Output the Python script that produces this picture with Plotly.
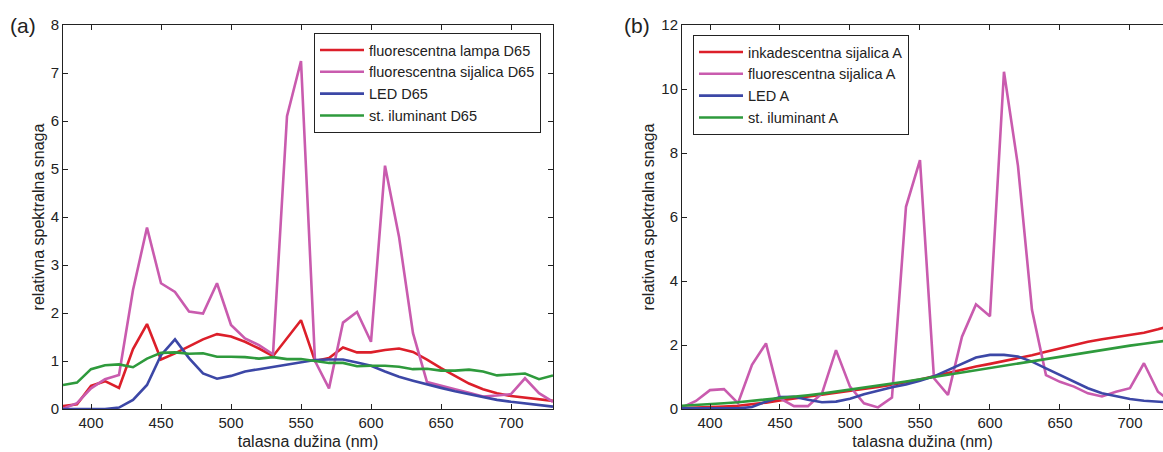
import plotly.graph_objects as go

# ---------------- data ----------------
wl = [380, 390, 400, 410, 420, 430, 440, 450, 460, 470, 480, 490, 500, 510, 520, 530, 540, 550,
      560, 570, 580, 590, 600, 610, 620, 630, 640, 650, 660, 670, 680, 690, 700, 710, 720, 730]

# panel (a) - D65
a_fl_lampa = [0.06, 0.10, 0.48, 0.58, 0.44, 1.25, 1.77, 1.03, 1.16, 1.30, 1.45, 1.56, 1.51, 1.40, 1.26, 1.10, 1.48, 1.85,
              1.00, 1.06, 1.28, 1.18, 1.18, 1.23, 1.26, 1.19, 1.03, 0.85, 0.69, 0.53, 0.41, 0.33, 0.27, 0.24, 0.20, 0.17]
a_fl_sijalica = [0.01, 0.12, 0.43, 0.62, 0.71, 2.48, 3.78, 2.62, 2.44, 2.03, 1.99, 2.62, 1.75, 1.47, 1.33, 1.14, 6.10, 7.25,
                 1.00, 0.43, 1.80, 2.02, 1.40, 5.07, 3.59, 1.58, 0.56, 0.48, 0.41, 0.34, 0.26, 0.28, 0.31, 0.64, 0.33, 0.15]
a_led = [0.0, 0.0, 0.0, 0.0, 0.03, 0.19, 0.50, 1.12, 1.45, 1.06, 0.74, 0.63, 0.69, 0.78, 0.83, 0.88, 0.93, 0.98,
         1.02, 1.03, 1.03, 0.97, 0.90, 0.78, 0.67, 0.59, 0.51, 0.44, 0.37, 0.31, 0.24, 0.19, 0.15, 0.12, 0.08, 0.05]
a_std = [0.50, 0.55, 0.83, 0.91, 0.93, 0.87, 1.05, 1.17, 1.18, 1.15, 1.16, 1.09, 1.09, 1.08, 1.05, 1.08, 1.04, 1.04,
         1.00, 0.96, 0.96, 0.89, 0.90, 0.90, 0.88, 0.83, 0.84, 0.80, 0.80, 0.82, 0.78, 0.70, 0.72, 0.74, 0.62, 0.70]

# panel (b) - A
b_inkand = [0.03, 0.04, 0.06, 0.08, 0.10, 0.14, 0.20, 0.27, 0.33, 0.38, 0.43, 0.49, 0.55, 0.62, 0.69, 0.76, 0.83, 0.92,
            1.02, 1.13, 1.24, 1.33, 1.41, 1.50, 1.58, 1.68, 1.79, 1.90, 2.00, 2.10, 2.18, 2.24, 2.30, 2.38, 2.49, 2.62]
b_fl_sijalica = [0.05, 0.25, 0.59, 0.62, 0.18, 1.38, 2.05, 0.33, 0.09, 0.09, 0.49, 1.84, 0.70, 0.18, 0.05, 0.36, 6.32, 7.78,
                 0.96, 0.44, 2.26, 3.27, 2.90, 10.54, 7.60, 3.10, 1.06, 0.85, 0.70, 0.49, 0.39, 0.54, 0.65, 1.43, 0.54, 0.20]
b_led = [0.02, 0.02, 0.02, 0.02, 0.02, 0.06, 0.23, 0.37, 0.38, 0.29, 0.21, 0.23, 0.32, 0.46, 0.58, 0.68, 0.77, 0.88,
         1.02, 1.22, 1.43, 1.61, 1.69, 1.69, 1.64, 1.48, 1.27, 1.06, 0.85, 0.65, 0.49, 0.39, 0.31, 0.26, 0.22, 0.20]
b_std = [0.10, 0.12, 0.15, 0.18, 0.21, 0.25, 0.29, 0.33, 0.38, 0.43, 0.48, 0.54, 0.60, 0.66, 0.73, 0.79, 0.86, 0.93,
         1.00, 1.07, 1.14, 1.22, 1.29, 1.36, 1.44, 1.51, 1.58, 1.65, 1.72, 1.79, 1.85, 1.92, 1.98, 2.04, 2.10, 2.16]

names_a = ["fluorescentna lampa D65", "fluorescentna sijalica D65", "LED D65", "st. iluminant D65"]
names_b = ["inkadescentna sijalica A", "fluorescentna sijalica A", "LED A", "st. iluminant A"]
x_ticks = [400, 450, 500, 550, 600, 650, 700]
ya_ticks = [0, 1, 2, 3, 4, 5, 6, 7, 8]
yb_ticks = [0, 2, 4, 6, 8, 10, 12]

colors = ["#DC1F2A", "#C95BAE", "#3C47A6", "#2E9A3C"]
FONT = "Liberation Sans, Arial, sans-serif"

fig = go.Figure()
for ys, nm, c in zip([a_fl_lampa, a_fl_sijalica, a_led, a_std], names_a, colors):
    fig.add_trace(go.Scatter(x=wl, y=ys, name=nm, mode="lines", line=dict(color=c, width=2.6),
                             xaxis="x", yaxis="y", legend="legend"))
for ys, nm, c in zip([b_inkand, b_fl_sijalica, b_led, b_std], names_b, colors):
    fig.add_trace(go.Scatter(x=wl, y=ys, name=nm, mode="lines", line=dict(color=c, width=2.6),
                             xaxis="x2", yaxis="y2", legend="legend2"))

W, H = 1163, 452
ax_common = dict(showline=True, linecolor="#222", linewidth=1, ticks="inside", ticklen=5,
                 tickcolor="#222", showgrid=False, zeroline=False, automargin=False,
                 tickfont=dict(family=FONT, size=15, color="#222"))
ybot, ytop = 1 - 409 / H, 1 - 25 / H
xtitle = dict(text="talasna dužina (nm)", font=dict(size=16), standoff=5)
ytitle = dict(text="relativna spektralna snaga", font=dict(size=16), standoff=2)
leg_common = dict(xanchor="left", yanchor="top", bgcolor="white", bordercolor="#222", borderwidth=1,
                  font=dict(family=FONT, size=14.5, color="#222"), tracegroupgap=0, itemwidth=44)

fig.update_layout(
    width=W, height=H, margin=dict(l=0, r=0, t=0, b=0, autoexpand=False),
    paper_bgcolor="white", plot_bgcolor="white",
    font=dict(family=FONT, color="#222"),
    xaxis=dict(domain=[63 / W, 553 / W], range=[380, 730], tickvals=x_ticks, mirror="ticks",
               anchor="y", title=xtitle, **ax_common),
    yaxis=dict(domain=[ybot, ytop], range=[0, 8], tickvals=ya_ticks, mirror="ticks", anchor="x",
               title=ytitle, **ax_common),
    xaxis2=dict(domain=[682 / W, 1.0], range=[380, 723.6], tickvals=x_ticks, mirror="ticks",
                anchor="y2", title=xtitle, **ax_common),
    yaxis2=dict(domain=[ybot, ytop], range=[0, 12], tickvals=yb_ticks, mirror=False, anchor="x2",
                title=ytitle, **ax_common),
    legend=dict(x=314 / W, y=1 - 33 / H, **leg_common),
    legend2=dict(x=693 / W, y=1 - 35 / H, **leg_common),
    showlegend=True,
    annotations=[
        dict(text="(a)", x=8 / W, y=1 - 26 / H, xref="paper", yref="paper", xanchor="left", yanchor="middle",
             showarrow=False, font=dict(family=FONT, size=21, color="#222")),
        dict(text="(b)", x=622 / W, y=1 - 26 / H, xref="paper", yref="paper", xanchor="left", yanchor="middle",
             showarrow=False, font=dict(family=FONT, size=21, color="#222")),
    ],
)

fig.write_html("out.html", config={"displayModeBar": False},
               post_script="document.body.style.margin='0';document.body.style.overflow='hidden';")
